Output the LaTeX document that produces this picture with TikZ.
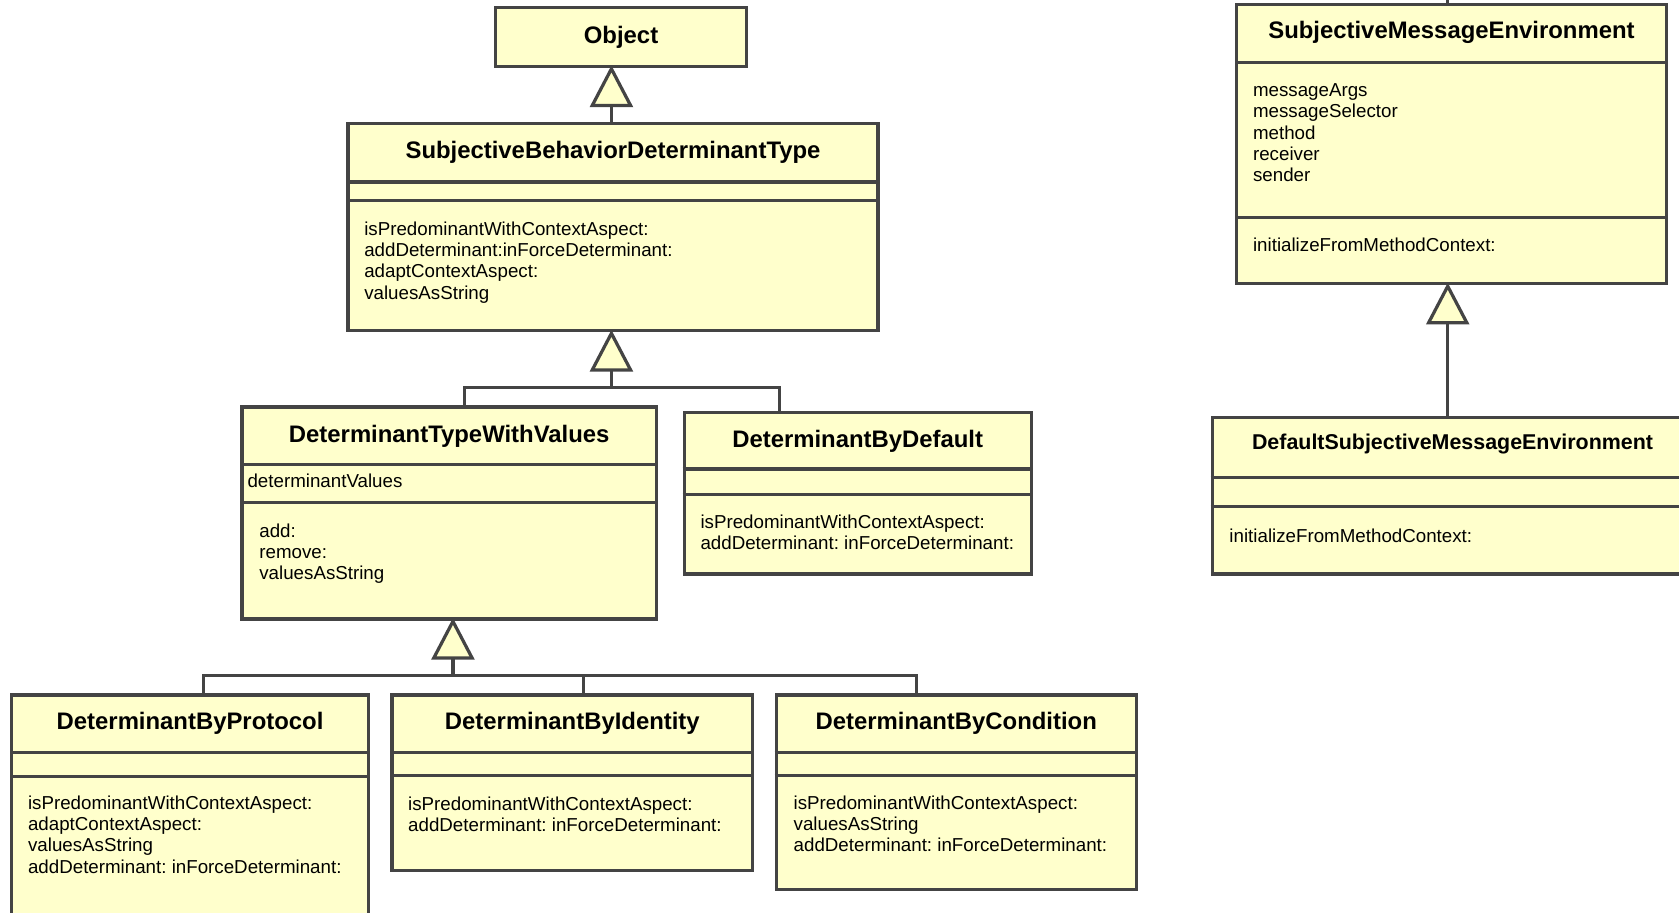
\documentclass[tikz,border=0pt]{standalone}
\usepackage{fontspec}
\setmainfont{Liberation Sans}
\usetikzlibrary{arrows.meta}
\definecolor{umlfill}{RGB}{255,255,204}
\definecolor{umlline}{RGB}{68,68,68}
\frenchspacing

\begin{document}
\begin{tikzpicture}[
x=1pt, y=-1pt,
umlclass/.style={draw=umlline, fill=umlfill, line width=3pt, inner sep=0pt},
classname/.style={font=\bfseries\fontsize{22.3}{26}\selectfont, inner sep=0pt, text height=16pt, text depth=0pt},
members/.style={font=\fontsize{17.5}{20}\selectfont, align=left, anchor=north west, inner sep=0pt},
divider/.style={umlline, line width=3pt},
link/.style={umlline, line width=3pt},
generalize/.style={link, shorten >=-2.5pt, -{Triangle[length=39pt, width=40pt, fill=umlfill]}}
]
\useasboundingbox (0,0) rectangle (1568,852);

% class boxes
\node[umlclass, minimum width=234pt, minimum height=55pt] (object) at (580,34.5) {};
\node[umlclass, minimum width=495pt, minimum height=194pt] (sbdt) at (572.5,212) {};
\node[umlclass, minimum width=387pt, minimum height=198pt] (dtwv) at (419.5,479) {};
\node[umlclass, minimum width=324pt, minimum height=151pt] (dbd) at (801,460.5) {};
\node[umlclass, minimum width=333pt, minimum height=222pt] (dbp) at (177.5,760) {};
\node[umlclass, minimum width=337pt, minimum height=164pt] (dbi) at (534.5,731) {};
\node[umlclass, minimum width=336pt, minimum height=182pt] (dbc) at (893,740) {};
\node[umlclass, minimum width=401pt, minimum height=261pt] (sme) at (1355.5,134.5) {};
\node[umlclass, minimum width=449pt, minimum height=146pt] (dsme) at (1356.5,463) {};

% compartments
\draw[divider] (sbdt.west |- 0,170) -- (sbdt.east |- 0,170);
\draw[divider] (sbdt.west |- 0,187) -- (sbdt.east |- 0,187);
\draw[divider] (dtwv.west |- 0,434) -- (dtwv.east |- 0,434);
\draw[divider] (dtwv.west |- 0,469) -- (dtwv.east |- 0,469);
\draw[divider] (dbd.west |- 0,438) -- (dbd.east |- 0,438);
\draw[divider] (dbd.west |- 0,462) -- (dbd.east |- 0,462);
\draw[divider] (dbp.west |- 0,703) -- (dbp.east |- 0,703);
\draw[divider] (dbp.west |- 0,725) -- (dbp.east |- 0,725);
\draw[divider] (dbi.west |- 0,703) -- (dbi.east |- 0,703);
\draw[divider] (dbi.west |- 0,724) -- (dbi.east |- 0,724);
\draw[divider] (dbc.west |- 0,703) -- (dbc.east |- 0,703);
\draw[divider] (dbc.west |- 0,724) -- (dbc.east |- 0,724);
\draw[divider] (sme.west |- 0,58) -- (sme.east |- 0,58);
\draw[divider] (sme.west |- 0,203) -- (sme.east |- 0,203);
\draw[divider] (dsme.west |- 0,446) -- (dsme.east |- 0,446);
\draw[divider] (dsme.west |- 0,473) -- (dsme.east |- 0,473);

% names
\node[classname] (object-name) at (object |- 0,33) {Object};
\node[classname] (sbdt-name) at (sbdt |- 0,140) {SubjectiveBehaviorDeterminantType};
\node[classname] (dtwv-name) at (dtwv |- 0,405) {DeterminantTypeWithValues};
\node[classname] (dbd-name) at (dbd |- 0,410) {DeterminantByDefault};
\node[classname] (dbp-name) at (dbp |- 0,673) {DeterminantByProtocol};
\node[classname] (dbi-name) at (dbi |- 0,673) {DeterminantByIdentity};
\node[classname] (dbc-name) at (dbc |- 0,673) {DeterminantByCondition};
\node[classname] (sme-name) at (sme |- 0,28) {SubjectiveMessageEnvironment};
\node[classname, font=\bfseries\fontsize{20}{24}\selectfont, text height=14.3pt] (dsme-name) at (dsme |- 0,413) {DefaultSubjectiveMessageEnvironment};

% attributes and operations
\node[members] (sbdt-ops) at (340,206.7) {isPredominantWithContextAspect:\\addDeterminant:inForceDeterminant:\\adaptContextAspect:\\valuesAsString};
\node[members] (dtwv-attr) at (231,442.7) {determinantValues};
\node[members] (dtwv-ops) at (242,488.7) {add:\\remove:\\valuesAsString};
\node[members] (dbd-ops) at (654,480.7) {isPredominantWithContextAspect:\\addDeterminant: inForceDeterminant:};
\node[members] (dbp-ops) at (26,742.7) {isPredominantWithContextAspect:\\adaptContextAspect:\\valuesAsString\\addDeterminant: inForceDeterminant:};
\node[members] (dbi-ops) at (381,743.7) {isPredominantWithContextAspect:\\addDeterminant: inForceDeterminant:};
\node[members] (dbc-ops) at (741,742.7) {isPredominantWithContextAspect:\\valuesAsString\\addDeterminant: inForceDeterminant:};
\node[members] (sme-attr) at (1170,77.7) {messageArgs\\messageSelector\\method\\receiver\\sender};
\node[members] (sme-ops) at (1170,221.7) {initializeFromMethodContext:};
\node[members] (dsme-ops) at (1148,493.7) {initializeFromMethodContext:};

% inheritance
\draw[generalize] (sbdt.north -| 571,0) -- (object.south -| 571,0);
\coordinate (sbdt-bus) at (571,362);
\draw[link] (dtwv.north -| 434,0) |- (sbdt-bus) -| (dbd.north -| 728,0);
\draw[generalize] (sbdt-bus) -- (sbdt.south -| sbdt-bus);
\coordinate (dtwv-bus) at (423,631);
\draw[link] (dbp.north -| 190,0) |- (dtwv-bus) -| (dbc.north -| 856,0);
\draw[link] (dbi.north -| 545,0) |- (dtwv-bus);
\draw[generalize] (dtwv-bus) -- (dtwv.south -| dtwv-bus);
\coordinate (sme-parent) at (1352,-5);
\draw[generalize] (dsme.north -| sme-parent) -- (sme.south -| sme-parent);
\draw[link] (sme.north -| sme-parent) -- (sme-parent);
\end{tikzpicture}
\end{document}
